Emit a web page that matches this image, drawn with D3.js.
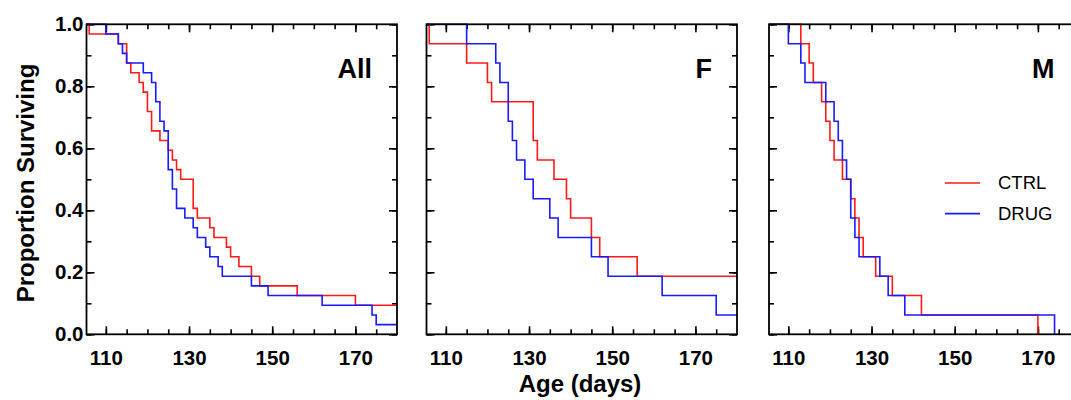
<!DOCTYPE html>
<html>
<head>
<meta charset="utf-8">
<script src="https://cdn.jsdelivr.net/npm/d3@7"></script>
<style>
  body { margin: 0; background: #fff; }
  text { font-family: "Liberation Sans", Arial, sans-serif; }
</style>
</head>
<body>
<svg id="chart" width="1071" height="400"></svg>
<script>
// ages at death (days); no censoring
let panels = ["All", "F", "M"];
let groupSize = [32, 16, 16];
let ctrlAll = [106,113,115,115,116,118,119,120,120,121,121,123,125,126,127,128,131,131,131,132,135,136,139,140,142,145,147,156,170];
let drugAll = [110,113,114,115,119,121,122,122,123,123,124,125,125,125,125,126,126,127,127,129,131,132,134,135,137,138,145,149,162,174,175];
let ctrlF = [106,115,120,121,131,131,132,136,139,140,145,147,156];
let drugF = [115,122,123,125,125,126,127,129,131,135,137,145,149,162,175];
let ctrlM = [113,115,116,118,119,120,121,123,125,126,127,128,131,135,142,170];
let drugM = [110,113,114,119,121,122,123,124,125,125,126,127,132,134,138,174];
let ctrlDeaths = [ctrlAll, ctrlF, ctrlM];
let drugDeaths = [drugAll, drugF, drugM];
let series = ["CTRL", "DRUG"];
let colors = ["#ff1a1a", "#1a1aff"];
let xMajor = [110, 130, 150, 170];
let xMinor = d3.range(110, 180, 5);
let yMajor = [0, 0.2, 0.4, 0.6, 0.8, 1.0];
let yMinor = d3.range(0, 1.01, 0.1);

let svg = d3.select("#chart");
let panelLeft = [86.5, 426.5, 769],
    panelW = 310.5,
    plotTop = 24.3,
    plotBottom = 334.3;

let x = d3.scaleLinear().domain([105.35, 180]).range([0, panelW]);
let y = d3.scaleLinear().domain([0, 1]).range([plotBottom, plotTop]);

// survival steps from the list of death ages
let steps = (deaths, n) => {
    let pts = [[x.domain()[0], 1]];
    deaths.forEach((t, i) => pts.push([t, 1 - (i + 1) / n]));
    let last = pts[pts.length - 1][1];
    if (last > 1e-9) pts.push([x.domain()[1], last]);
    return pts;
};

let line = d3.line()
    .curve(d3.curveStepAfter)
    .x(function(d) { return x(d[0]); })
    .y(function(d) { return y(d[1]); });

let styleAxis = (sel) => {
    sel.select(".domain").remove();
    sel.selectAll(".tick line").attr("stroke", "#000").attr("stroke-width", 1.6);
};

panels.forEach((name, i) => {
    let g = svg.append("g").attr("transform", "translate(" + panelLeft[i] + ",0)");

    // ticks, all pointing inwards
    g.append("g").attr("transform", "translate(0," + plotBottom + ")")
        .call(d3.axisBottom(x).tickValues(xMinor).tickSize(-5).tickFormat(""))
        .call(styleAxis);
    g.append("g").attr("transform", "translate(0," + plotBottom + ")")
        .call(d3.axisBottom(x).tickValues(xMajor).tickSize(-8).tickPadding(16).tickFormat(d3.format("d")))
        .call(styleAxis)
        .selectAll("text")
        .attr("fill", "#000")
        .style("font-size", "20.5px")
        .style("font-weight", "bold");
    g.append("g").attr("transform", "translate(0," + plotTop + ")")
        .call(d3.axisTop(x).tickValues(xMinor).tickSize(-5).tickFormat(""))
        .call(styleAxis);
    g.append("g").attr("transform", "translate(0," + plotTop + ")")
        .call(d3.axisTop(x).tickValues(xMajor).tickSize(-8).tickFormat(""))
        .call(styleAxis);
    g.append("g")
        .call(d3.axisLeft(y).tickValues(yMinor).tickSize(-5).tickFormat(""))
        .call(styleAxis);
    let left = g.append("g")
        .call(d3.axisLeft(y).tickValues(yMajor).tickSize(-8).tickPadding(4).tickFormat(i === 0 ? d3.format(".1f") : ""))
        .call(styleAxis);
    left.selectAll("text")
        .attr("fill", "#000")
        .attr("x", -3)
        .style("font-size", "20.5px")
        .style("font-weight", "bold");
    g.append("g").attr("transform", "translate(" + panelW + ",0)")
        .call(d3.axisRight(y).tickValues(yMinor).tickSize(-5).tickFormat(""))
        .call(styleAxis);
    g.append("g").attr("transform", "translate(" + panelW + ",0)")
        .call(d3.axisRight(y).tickValues(yMajor).tickSize(-8).tickFormat(""))
        .call(styleAxis);

    // curves
    [ctrlDeaths[i], drugDeaths[i]].forEach((deaths, k) => {
        g.append("path")
            .datum(steps(deaths, groupSize[i]))
            .attr("fill", "none")
            .attr("stroke", colors[k])
            .attr("stroke-width", 1.6)
            .attr("d", line);
    });

    // frame
    g.append("rect")
        .attr("x", 0).attr("y", plotTop)
        .attr("width", panelW).attr("height", plotBottom - plotTop)
        .attr("fill", "none")
        .attr("stroke", "#000")
        .attr("stroke-width", 1.8);

    g.append("text")
        .attr("x", panelW - 25)
        .attr("y", 78)
        .attr("text-anchor", "end")
        .style("font-size", "27px")
        .style("font-weight", "bold")
        .text(name);
});

// legend in the last panel
let legend = svg.append("g").attr("transform", "translate(945,183)");
series.forEach((s, k) => {
    let row = legend.append("g").attr("transform", "translate(0," + (k * 30.6) + ")");
    row.append("line")
        .attr("x1", 0).attr("x2", 35)
        .attr("stroke", colors[k])
        .attr("stroke-width", 1.6);
    row.append("text")
        .attr("x", 53)
        .attr("dy", "0.35em")
        .style("font-size", "18.5px")
        .text(s);
});

// axis titles
svg.append("text")
    .attr("transform", "translate(34,183) rotate(-90)")
    .attr("text-anchor", "middle")
    .style("font-size", "24px")
    .style("font-weight", "bold")
    .text("Proportion Surviving");

svg.append("text")
    .attr("x", 580)
    .attr("y", 392)
    .attr("text-anchor", "middle")
    .style("font-size", "24px")
    .style("font-weight", "bold")
    .text("Age (days)");
</script>
</body>
</html>
